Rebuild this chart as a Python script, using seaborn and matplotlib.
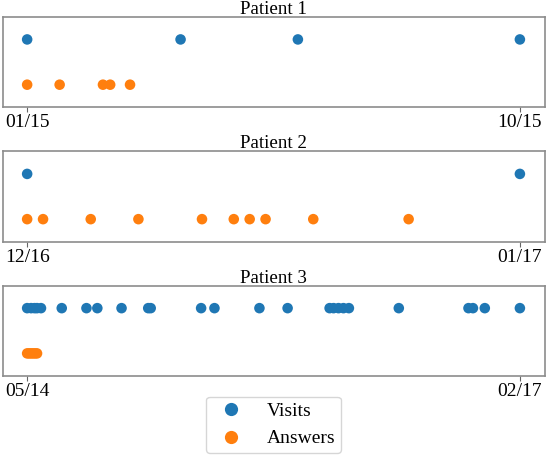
import matplotlib
matplotlib.use("Agg")
import matplotlib.pyplot as plt
import matplotlib.dates as mdates
import seaborn as sns
import pandas as pd


# dates of visits / questionnaire answers, one pair of lists per patient
p1_visits = ["2015-01-15", "2015-04-10", "2015-06-14", "2015-10-15"]
p1_answers = ["2015-01-15", "2015-02-02", "2015-02-26", "2015-03-02", "2015-03-13"]

p2_visits = ["2016-12-15", "2017-01-15"]
p2_answers = ["2016-12-15", "2016-12-16", "2016-12-19", "2016-12-22", "2016-12-26",
              "2016-12-28", "2016-12-29", "2016-12-30", "2017-01-02", "2017-01-08"]

p3_visits = ["2014-05-20", "2014-05-28", "2014-06-04", "2014-06-09", "2014-06-17",
             "2014-07-29", "2014-09-17", "2014-10-09", "2014-11-27", "2015-01-20",
             "2015-01-25", "2015-05-07", "2015-06-03", "2015-09-02", "2015-10-29",
             "2016-01-22", "2016-01-30", "2016-02-09", "2016-02-19", "2016-03-01",
             "2016-06-10", "2016-10-29", "2016-11-07", "2016-12-01", "2017-02-10"]
p3_answers = ["2014-05-20", "2014-05-24", "2014-05-28", "2014-06-01", "2014-06-05",
              "2014-06-09"]

patients = ["Patient 1", "Patient 2", "Patient 3"]
visits = [p1_visits, p2_visits, p3_visits]
answers = [p1_answers, p2_answers, p3_answers]
kinds = ["Visits", "Answers"]


def make_df(v, a):
    df = pd.DataFrame({
        "date": pd.to_datetime(v + a),
        "kind": ["Visits"] * len(v) + ["Answers"] * len(a),
    })
    df["num"] = mdates.date2num(df["date"])
    return df


sns.set_style("white")
plt.rcParams["font.family"] = ["Liberation Serif", "DejaVu Serif"]
plt.rcParams["axes.edgecolor"] = "0.55"
plt.rcParams["axes.linewidth"] = 1.2
plt.rcParams["text.color"] = "black"
plt.rcParams["xtick.color"] = "black"
plt.rcParams["axes.titlecolor"] = "black"

fig = plt.figure(figsize=(5.46, 4.58), dpi=100)
bottoms = [0.7657, 0.4721, 0.1790]
palette = {"Visits": "#1f77b4", "Answers": "#ff7f0e"}

for i, name in enumerate(patients):
    ax = fig.add_axes([0.0046, bottoms[i], 0.9927, 0.1976])
    df = make_df(visits[i], answers[i])
    sns.stripplot(data=df, x="num", y="kind", hue="kind", order=kinds,
                  hue_order=kinds, palette=palette, jitter=False, size=7.6,
                  linewidth=0, orient="h", legend=(i == 2), ax=ax)
    ax.margins(x=0.05)
    vis = df.loc[df.kind == "Visits", "num"]
    first, last = vis.min(), vis.max()
    ax.set_xticks([first, last])
    ax.set_xticklabels([mdates.num2date(t).strftime("%m/%y") for t in (first, last)],
                       fontsize=14)
    ax.tick_params(axis="x", bottom=True, length=3.5, width=0.8, color="0.4", pad=1.5)
    ax.set_yticks([])
    ax.set_xlabel("")
    ax.set_ylabel("")
    ax.set_title(name, fontsize=13.7, pad=2)
    if i == 2:
        sns.move_legend(ax, "upper center", bbox_to_anchor=(0.5, -0.12),
                        fontsize=14, title=None, frameon=True, markerscale=1.25,
                        labelspacing=0.5, borderpad=0.3)

fig.savefig("out.png", dpi=100)
